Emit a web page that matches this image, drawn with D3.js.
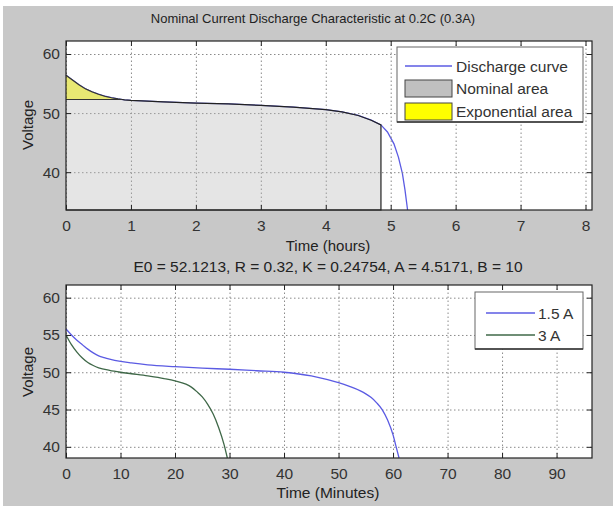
<!DOCTYPE html>
<html>
<head>
<meta charset="utf-8">
<script src="https://cdn.jsdelivr.net/npm/d3@7"></script>
<style>
  body { margin: 0; background: #fff; }
  svg { display: block; font-family: "Liberation Sans", Arial, sans-serif; }
  .grid line { stroke: #8a8a8a; stroke-dasharray: 1.5,2.5; }
  .grid path { display: none; }
</style>
</head>
<body>
<svg id="chart"></svg>
<script>
const w = 613;
const h = 508;

// top panel: nominal discharge at 0.3 A (time in hours)
const hoursTop = [0, 0.1, 0.2, 0.3, 0.4, 0.5, 0.6, 0.7, 0.8, 0.9, 1.0, 1.5, 2.0, 2.5, 3.0, 3.5, 4.0, 4.25, 4.5, 4.7, 4.85, 4.95, 5.05, 5.12, 5.18, 5.22, 5.26];
const voltsTop = [56.4, 55.6, 54.8, 54.1, 53.6, 53.2, 52.85, 52.6, 52.4, 52.25, 52.15, 51.9, 51.7, 51.55, 51.3, 51.0, 50.6, 50.2, 49.6, 48.8, 48.0, 46.8, 44.8, 42.5, 39.8, 37.0, 33.6];
const nominalEnd = 4.85;   // hours
const nominalVolt = 52.3;  // end of exponential zone
const topXTicks = [0, 1, 2, 3, 4, 5, 6, 7, 8];
const topYTicks = [40, 50, 60];

// bottom panel: 1.5 A and 3 A (time in minutes)
const minA15 = [0, 1, 2, 3, 4, 5, 6, 7, 8, 10, 12, 15, 20, 25, 30, 35, 40, 45, 48, 50, 52, 54, 55, 56, 57, 58, 59, 60, 60.5, 61.1];
const voltA15 = [55.8, 55.0, 54.3, 53.7, 53.1, 52.6, 52.2, 51.95, 51.75, 51.45, 51.25, 51.0, 50.75, 50.55, 50.4, 50.2, 50.0, 49.5, 49.0, 48.6, 48.1, 47.5, 47.1, 46.6, 45.9, 45.0, 43.6, 41.6, 40.2, 38.5];
const minA3 = [0, 1, 2, 3, 4, 5, 6, 8, 10, 12, 15, 18, 20, 22, 23, 24, 25, 26, 27, 28, 29, 29.6];
const voltA3 = [55.0, 53.7, 52.7, 51.9, 51.3, 50.9, 50.6, 50.25, 50.0, 49.8, 49.5, 49.15, 48.85, 48.4, 48.0, 47.4, 46.7, 45.7, 44.4, 42.6, 40.3, 38.5];
const botXTicks = [0, 10, 20, 30, 40, 50, 60, 70, 80, 90];
const botYTicks = [40, 45, 50, 55, 60];

const titleText = "Nominal Current Discharge Characteristic at 0.2C (0.3A)";
const paramText = "E0 = 52.1213, R = 0.32, K = 0.24754, A = 4.5171, B = 10";

const blue = "#5b5be3";
const green = "#3f6848";

const svg = d3.select("#chart")
  .attr("width", w)
  .attr("height", h);

svg.append("rect")
  .attr("x", 3).attr("y", 6)
  .attr("width", w - 3).attr("height", h - 8)
  .attr("fill", "#c8c8c8");

function makeAxes(box, xDomain, yDomain, xTicks, yTicks) {
  const x = d3.scaleLinear().domain(xDomain).range([box.left, box.right]);
  const y = d3.scaleLinear().domain(yDomain).range([box.bottom, box.top]);
  const g = svg.append("g");

  g.append("rect")
    .attr("x", box.left).attr("y", box.top)
    .attr("width", box.right - box.left).attr("height", box.bottom - box.top)
    .attr("fill", "#fff");

  const plot = g.append("g");

  const grid = g.append("g").attr("class", "grid");
  grid.append("g")
    .attr("transform", `translate(0,${box.bottom})`)
    .call(d3.axisBottom(x).tickValues(xTicks).tickSize(-(box.bottom - box.top)).tickFormat(""));
  grid.append("g")
    .attr("transform", `translate(${box.left},0)`)
    .call(d3.axisLeft(y).tickValues(yTicks).tickSize(-(box.right - box.left)).tickFormat(""));

  const front = g.append("g");

  return {x, y, plot, front, g};
}

function finishAxes(ax, box, xTicks, yTicks) {
  const g = ax.g.append("g");
  const tick = 5;
  const axStyle = sel => {
    sel.select(".domain").remove();
    sel.selectAll("line").attr("stroke", "#222");
    sel.selectAll("text")
      .attr("fill", "#333")
      .attr("font-size", 15.5)
      .attr("font-family", "Liberation Sans, Arial, sans-serif");
  };
  g.append("g")
    .attr("transform", `translate(0,${box.bottom})`)
    .call(d3.axisBottom(ax.x).tickValues(xTicks).tickSize(-tick).tickPadding(10).tickFormat(d3.format("d")))
    .call(axStyle);
  g.append("g")
    .attr("transform", `translate(0,${box.top})`)
    .call(d3.axisTop(ax.x).tickValues(xTicks).tickSize(-tick).tickFormat(""))
    .call(axStyle);
  g.append("g")
    .attr("transform", `translate(${box.left},0)`)
    .call(d3.axisLeft(ax.y).tickValues(yTicks).tickSize(-tick).tickPadding(6).tickFormat(d3.format("d")))
    .call(axStyle);
  g.append("g")
    .attr("transform", `translate(${box.right},0)`)
    .call(d3.axisRight(ax.y).tickValues(yTicks).tickSize(-tick).tickFormat(""))
    .call(axStyle);

  g.append("rect")
    .attr("x", box.left).attr("y", box.top)
    .attr("width", box.right - box.left).attr("height", box.bottom - box.top)
    .attr("fill", "none")
    .attr("stroke", "#222")
    .attr("stroke-width", 1.2);
}

// ---------- top panel ----------
const topBox = {left: 66, right: 592, top: 41, bottom: 210};
const topAx = makeAxes(topBox, [0, 8.1], [33.6, 62.2], topXTicks, topYTicks);

const topData = hoursTop.map((t, i) => ({t: t, v: voltsTop[i]}));

// where the curve crosses the nominal voltage
let expEnd = 0;
for (let i = 0; i < topData.length - 1; i++) {
  const a = topData[i], b = topData[i + 1];
  if (a.v >= nominalVolt && b.v < nominalVolt) {
    expEnd = a.t + (a.v - nominalVolt) / (a.v - b.v) * (b.t - a.t);
    break;
  }
}

const line = d3.line().x(d => topAx.x(d.t)).y(d => topAx.y(d.v));

const nomPts = [{t: 0, v: nominalVolt}, {t: expEnd, v: nominalVolt}]
  .concat(topData.filter(d => d.t > expEnd && d.t <= nominalEnd))
  .concat([{t: nominalEnd, v: 33.6}, {t: 0, v: 33.6}]);

const expPts = topData.filter(d => d.t < expEnd)
  .concat([{t: expEnd, v: nominalVolt}, {t: 0, v: nominalVolt}]);

// blue discharge curve
topAx.plot.append("path")
  .datum(topData)
  .attr("d", line)
  .attr("fill", "none")
  .attr("stroke", blue)
  .attr("stroke-width", 1.3);

topAx.front.append("path")
  .datum(nomPts)
  .attr("d", line)
  .attr("fill", "#b4b4b4")
  .attr("fill-opacity", 0.35)
  .attr("stroke", "#222")
  .attr("stroke-width", 1.2);

topAx.front.append("path")
  .datum(expPts)
  .attr("d", line)
  .attr("fill", "#d6d600")
  .attr("fill-opacity", 0.55)
  .attr("stroke", "#333")
  .attr("stroke-width", 1.1);

finishAxes(topAx, topBox, topXTicks, topYTicks);

// legend top
const lgTop = svg.append("g");
lgTop.append("rect")
  .attr("x", 397).attr("y", 47).attr("width", 186).attr("height", 75)
  .attr("fill", "#fff").attr("stroke", "#666").attr("stroke-width", 1);
lgTop.append("line")
  .attr("x1", 397).attr("x2", 583).attr("y1", 122).attr("y2", 122)
  .attr("stroke", "#333").attr("stroke-width", 1.5);
lgTop.append("line")
  .attr("x1", 405).attr("x2", 452).attr("y1", 66).attr("y2", 66)
  .attr("stroke", blue).attr("stroke-width", 1.3);
lgTop.append("rect")
  .attr("x", 405).attr("y", 80).attr("width", 47).attr("height", 17)
  .attr("fill", "#c0c0c0").attr("stroke", "#444");
lgTop.append("rect")
  .attr("x", 405).attr("y", 103).attr("width", 47).attr("height", 17)
  .attr("fill", "#ffff00").attr("stroke", "#444");
lgTop.selectAll("text.lab")
  .data(["Discharge curve", "Nominal area", "Exponential area"])
  .enter()
  .append("text")
  .attr("x", 456)
  .attr("y", (d, i) => 66 + i * 22.5)
  .attr("dy", "0.36em")
  .attr("font-size", 15.5)
  .attr("fill", "#333")
  .text(d => d);

// ---------- bottom panel ----------
const botBox = {left: 66, right: 592, top: 285, bottom: 458};
const botAx = makeAxes(botBox, [0, 96.5], [38.5, 61.7], botXTicks, botYTicks);

const series = [
  {name: "1.5 A", color: blue, pts: minA15.map((t, i) => ({t: t, v: voltA15[i]}))},
  {name: "3 A", color: green, pts: minA3.map((t, i) => ({t: t, v: voltA3[i]}))}
];

const line2 = d3.line().curve(d3.curveMonotoneX).x(d => botAx.x(d.t)).y(d => botAx.y(d.v));

botAx.front.selectAll("path.s")
  .data(series)
  .enter()
  .append("path")
  .attr("d", d => line2(d.pts))
  .attr("fill", "none")
  .attr("stroke", d => d.color)
  .attr("stroke-width", 1.3);

finishAxes(botAx, botBox, botXTicks, botYTicks);

const lgBot = svg.append("g");
lgBot.append("rect")
  .attr("x", 475).attr("y", 292).attr("width", 108).attr("height", 57)
  .attr("fill", "#fff").attr("stroke", "#666").attr("stroke-width", 1);
lgBot.append("line")
  .attr("x1", 475).attr("x2", 583).attr("y1", 349).attr("y2", 349)
  .attr("stroke", "#333").attr("stroke-width", 1.5);
lgBot.selectAll("line.s")
  .data(series)
  .enter()
  .append("line")
  .attr("x1", 486).attr("x2", 535)
  .attr("y1", (d, i) => 313 + i * 22).attr("y2", (d, i) => 313 + i * 22)
  .attr("stroke", d => d.color).attr("stroke-width", 1.3);
lgBot.selectAll("text.s")
  .data(series)
  .enter()
  .append("text")
  .attr("x", 538)
  .attr("y", (d, i) => 313 + i * 22)
  .attr("dy", "0.36em")
  .attr("font-size", 15.5)
  .attr("fill", "#333")
  .text(d => d.name);

// ---------- texts ----------
svg.append("text")
  .attr("x", 313).attr("y", 18).attr("dy", "0.36em")
  .attr("text-anchor", "middle").attr("font-size", 13).attr("fill", "#222")
  .text(titleText);

svg.append("text")
  .attr("x", 328).attr("y", 246).attr("dy", "0.36em")
  .attr("text-anchor", "middle").attr("font-size", 15).attr("fill", "#222")
  .text("Time (hours)");

svg.append("text")
  .attr("x", 328).attr("y", 266).attr("dy", "0.36em")
  .attr("text-anchor", "middle").attr("font-size", 15.5).attr("fill", "#222")
  .text(paramText);

svg.append("text")
  .attr("x", 328).attr("y", 492).attr("dy", "0.36em")
  .attr("text-anchor", "middle").attr("font-size", 15.5).attr("fill", "#222")
  .text("Time (Minutes)");

[[125, topBox], [372, botBox]].forEach(([cy]) => {
  svg.append("text")
    .attr("transform", `translate(28,${cy}) rotate(-90)`)
    .attr("dy", "0.36em")
    .attr("text-anchor", "middle").attr("font-size", 15).attr("fill", "#222")
    .text("Voltage");
});
</script>
</body>
</html>
